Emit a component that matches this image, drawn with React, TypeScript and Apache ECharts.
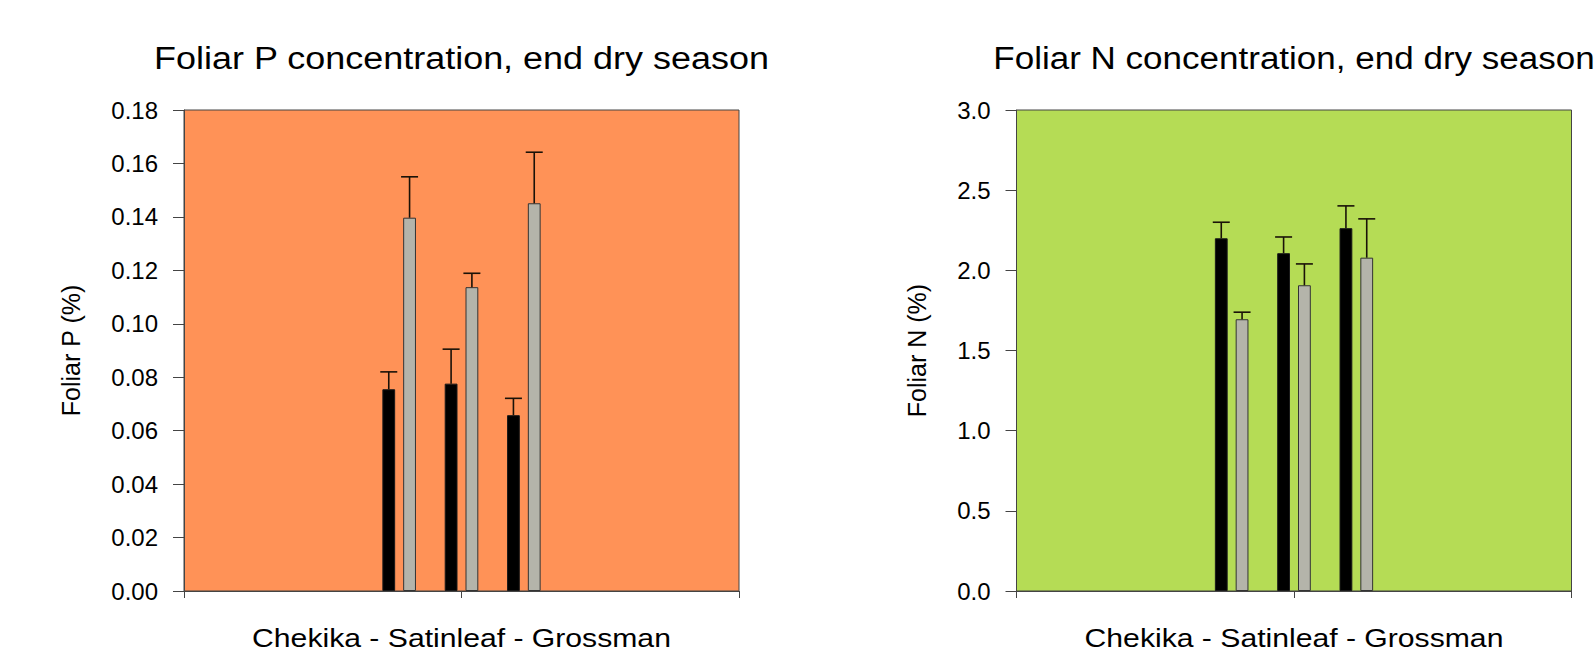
import React, { useEffect, useRef } from "react";
import * as echarts from "echarts";

const sites = ["Chekika", "Satinleaf", "Grossman"];
const pBlack = [0.0755, 0.0776, 0.0658];
const pBlackSE = [0.0065, 0.0129, 0.0063];
const pGray = [0.1397, 0.1137, 0.1451];
const pGraySE = [0.0153, 0.0052, 0.0191];
const nBlack = [2.2, 2.107, 2.263];
const nBlackSE = [0.1, 0.101, 0.139];
const nGray = [1.695, 1.907, 2.079];
const nGraySE = [0.044, 0.133, 0.242];

const titleP = "Foliar P concentration, end dry season";
const titleN = "Foliar N concentration, end dry season";
const xName = "Chekika - Satinleaf - Grossman";
const yNameP = "Foliar P (%)";
const yNameN = "Foliar N (%)";

const FONT = '"Liberation Sans", Arial, sans-serif';
const BAR_W = 12.8;
const BAR_GAP_PX = 8;

export default function App() {
  const ref = useRef<HTMLDivElement>(null);
  useEffect(() => {
    if (!ref.current) return;
    const chart = echarts.init(ref.current, undefined, { renderer: "svg" });
    const top = 110;
    const height = 481;
    const outerW = 555;
    const innerW = 187;
    const panels = [
      { left: 184, bg: "#FF9257", max: 0.18, interval: 0.02, digits: 2, name: yNameP, gap: 101, black: pBlack, blackSE: pBlackSE, gray: pGray, graySE: pGraySE, title: titleP, tStretch: 1.16 },
      { left: 1016.5, bg: "#B5DC55", max: 3.0, interval: 0.5, digits: 1, name: yNameN, gap: 87, black: nBlack, blackSE: nBlackSE, gray: nGray, graySE: nGraySE, title: titleN, tStretch: 1.13 },
    ];
    const grid: any[] = [];
    const xAxis: any[] = [];
    const yAxis: any[] = [];
    const series: any[] = [];
    const graphic: any[] = [];
    const off = (BAR_W + BAR_GAP_PX) / 2;
    panels.forEach((p, i) => {
      const gOuter = i * 2;
      const gInner = i * 2 + 1;
      grid.push({ left: p.left, top, width: outerW, height, show: true, backgroundColor: p.bg, borderColor: "#444", borderWidth: 1 });
      grid.push({ left: p.left + (outerW - innerW) / 2, top, width: innerW, height });
      xAxis.push({
        gridIndex: gOuter, type: "value", min: 0, max: 2, interval: 1,
        axisLine: { show: true, lineStyle: { color: "#444", width: 1 } },
        axisTick: { show: true, length: 7, lineStyle: { color: "#444" } },
        axisLabel: { show: false }, splitLine: { show: false },
      });
      xAxis.push({ gridIndex: gInner, type: "category", data: sites, show: false });
      yAxis.push({
        gridIndex: gOuter, type: "value", min: 0, max: p.max, interval: p.interval,
        name: p.name, nameLocation: "middle", nameGap: p.gap,
        nameTextStyle: { fontFamily: FONT, fontSize: 25, color: "#000" },
        axisLine: { show: true, lineStyle: { color: "#444", width: 1 } },
        axisTick: { show: true, length: 11, lineStyle: { color: "#444" } },
        axisLabel: { fontFamily: FONT, fontSize: 24, color: "#000", margin: 26, formatter: (v: number) => v.toFixed(p.digits) },
        splitLine: { show: false },
      });
      yAxis.push({ gridIndex: gInner, type: "value", min: 0, max: p.max, interval: p.interval, show: false });
      const groups = [
        { vals: p.black, se: p.blackSE, color: "#000000", border: "#1a1a1a", sign: -1, name: "black" },
        { vals: p.gray, se: p.graySE, color: "#B4B4AA", border: "#333333", sign: 1, name: "gray" },
      ];
      groups.forEach((g) => {
        series.push({
          type: "bar", name: g.name, xAxisIndex: gInner, yAxisIndex: gInner,
          data: g.vals, barWidth: BAR_W, barGap: (BAR_GAP_PX / BAR_W) * 100 + "%",
          itemStyle: { color: g.color, borderColor: g.border, borderWidth: 1 },
          z: 2,
        });
      });
      groups.forEach((g) => {
        series.push({
          type: "custom", xAxisIndex: gInner, yAxisIndex: gInner, z: 3,
          data: g.vals.map((v, k) => [k, v, v + g.se[k]]),
          renderItem: (params: any, api: any) => {
            const base = api.coord([api.value(0), api.value(1)]);
            const hi = api.coord([api.value(0), api.value(2)]);
            const x = base[0] + g.sign * off;
            const style = { stroke: "#1a1208", lineWidth: 1.6 };
            return {
              type: "group",
              children: [
                { type: "line", shape: { x1: x, y1: base[1], x2: x, y2: hi[1] }, style },
                { type: "line", shape: { x1: x - 8.5, y1: hi[1], x2: x + 8.5, y2: hi[1] }, style },
              ],
            };
          },
        });
      });
      const cx = p.left + outerW / 2;
      graphic.push({
        type: "text", x: cx, y: 58, scaleX: p.tStretch,
        style: { text: p.title, font: `31px ${FONT}`, fill: "#000", align: "center", verticalAlign: "middle", textAlign: "center", textVerticalAlign: "middle" },
      });
      graphic.push({
        type: "text", x: cx, y: 651, scaleX: 1.16,
        style: { text: xName, font: `26px ${FONT}`, fill: "#000", align: "center", verticalAlign: "bottom", textAlign: "center", textVerticalAlign: "bottom" },
      });
    });
    chart.setOption({
      animation: false,
      backgroundColor: "#ffffff",
      grid, xAxis, yAxis, series, graphic,
    });
    return () => chart.dispose();
  }, []);
  return <div ref={ref} style={{ position: "fixed", left: 0, top: 0, width: 1596, height: 652 }} />;
}
